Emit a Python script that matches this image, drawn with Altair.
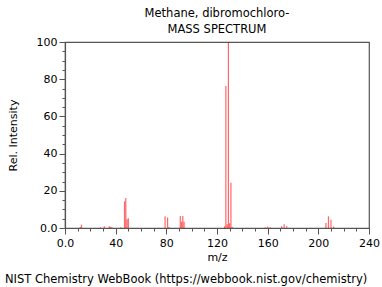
import altair as alt
import pandas as pd

mz = [12, 13, 28, 31, 35, 36, 37, 44, 47, 48, 49, 50, 79, 81, 82, 91, 92, 93, 94,
      126, 127, 128, 129, 130, 131, 132, 158, 160, 162, 171, 173, 175, 206, 208, 210, 212]
intensity = [0.6, 1.8, 0.4, 0.9, 1.0, 0.6, 0.4, 0.4, 14.3, 16.1, 4.7, 5.2, 6.3, 5.6, 0.5,
             6.5, 3.4, 6.5, 3.4, 1.0, 76.4, 2.0, 100.0, 2.5, 24.3, 0.6, 0.4, 0.8, 0.4,
             1.0, 2.0, 1.0, 2.7, 6.3, 4.5, 0.8]

title_lines = ["Methane, dibromochloro-", "MASS SPECTRUM"]
footer = ["NIST Chemistry WebBook (https://webbook.nist.gov/chemistry)"]

x_ticks = list(range(0, 241, 10))
y_ticks = list(range(0, 101, 5))

df = pd.DataFrame({"mz": mz, "intensity": intensity, "zero": [0] * len(mz)})
foot_df = pd.DataFrame({"t": footer})

FONT = "DejaVu Sans"

bars = alt.Chart(df).mark_rule(color="#ff0000", opacity=0.6, strokeWidth=1.2).encode(
    x=alt.X("mz:Q", scale=alt.Scale(domain=[0, 240], nice=False),
            axis=alt.Axis(title="m/z", values=x_ticks,
                          labelExpr="datum.value % 40 === 0 ? (datum.value === 0 ? '0.0' : datum.label) : ''",
                          tickSize={"condition": {"test": "datum.value % 40 === 0", "value": 6}, "value": 3},
                          grid=False, labelFlush=False, labelPadding=3, titlePadding=3)),
    y=alt.Y("zero:Q", scale=alt.Scale(domain=[0, 100], nice=False),
            axis=alt.Axis(title="Rel. Intensity", values=y_ticks,
                          labelExpr="datum.value % 20 === 0 ? (datum.value === 0 ? '0.0' : datum.label) : ''",
                          tickSize={"condition": {"test": "datum.value % 20 === 0", "value": 6}, "value": 3},
                          grid=False, labelFlush=False, labelPadding=2, titlePadding=18)),
    y2="intensity:Q",
)

foot = alt.Chart(foot_df).mark_text(align="left", baseline="middle", fontSize=11.5, font=FONT,
                                    color="black").encode(
    text="t:N", x=alt.value(-60), y=alt.value(238))

chart = alt.layer(bars, foot).properties(
    width=304, height=186,
    title=alt.TitleParams(title_lines, anchor="middle", fontSize=11.5, font=FONT,
                          fontWeight="normal", color="black", offset=1, lineHeight=16),
    autosize=alt.AutoSizeParams(type="none"),
    padding={"left": 65, "top": 42, "right": 13, "bottom": 59},
).configure_view(stroke="#555555", strokeWidth=1.2).configure_axis(
    labelFont=FONT, titleFont=FONT, labelFontSize=11, titleFontSize=11,
    titleFontWeight="normal", labelColor="black", titleColor="black",
    domainColor="#555555", tickColor="#555555", domainWidth=1.2)

chart.save("out.html", embed_options={"renderer": "svg", "actions": False})
